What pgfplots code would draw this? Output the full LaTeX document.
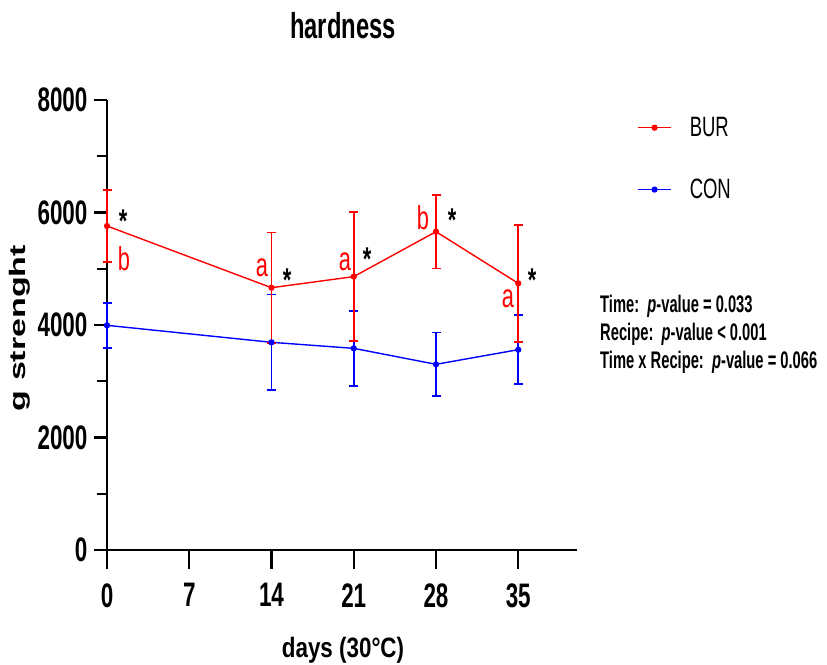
\documentclass[border=0pt]{standalone}
\usepackage{fontspec}
\setmainfont{Liberation Sans}[FakeStretch=0.66]
\newfontfamily\ylfont{Liberation Sans}
\usepackage{graphicx}
\usepackage{pgfplots}
\pgfplotsset{compat=1.18}
\usepackage{pgfplotstable}

\pgfplotstableread{
x y e
0 5760 640
14 4663 980
21 4860 1145
28 5659 655
35 4741 1040
}\bur
\pgfplotstableread{
x y e
0 3994 400
14 3692 850
21 3585 665
28 3301 565
35 3561 615
}\con

\newcommand{\fs}[1]{\fontsize{#1}{#1}\selectfont}

\begin{document}
\begin{tikzpicture}
\useasboundingbox (0,0) rectangle (827pt,664pt);
\begin{axis}[
  at={(107pt,114pt)}, anchor=south west,
  scale only axis, width=470pt, height=450pt,
  xmin=0, xmax=40, ymin=0, ymax=8000,
  clip=false,
  axis x line=bottom, axis y line=left,
  axis line style={-, line width=2.4pt, black},
  xtick={0,7,14,21,28,35},
  ytick={0,2000,4000,6000,8000},
  minor ytick={1000,3000,5000,7000},
  tick align=outside,
  major tick length=13pt, minor tick length=10pt,
  tick style={black, line width=2.4pt},
  ticklabel style={font=\fs{34}\bfseries},
  xticklabel style={yshift=-17pt},
  yticklabel style={xshift=-3pt},
  /pgf/number format/assume math mode=true,
  scaled y ticks=false,
  yticklabel style={/pgf/number format/1000 sep={}},
  reverse legend,
  legend cell align=left,
  legend style={draw=none, fill=none, at={(1.128,0.962)}, anchor=north west,
    font=\fs{28}, row sep=41pt, column sep=18pt, inner sep=0pt,
    nodes={inner sep=0pt}},
  legend image code/.code={\draw[#1, mark repeat=2, mark phase=2] plot coordinates {(0pt,0pt) (16.5pt,0pt) (33pt,0pt)};},
]
\addplot[blue, line width=1.4pt, mark=*, mark size=2.4pt, mark options={solid},
  error bars/.cd, y dir=both, y explicit,
  error bar style={line width=1.6pt},
  error mark options={rotate=90, mark size=4.5pt, line width=1.6pt}]
  table[x=x, y=y, y error=e] {\con};
\addlegendentry{CON}
\addplot[red, line width=1.4pt, mark=*, mark size=2.4pt, mark options={solid},
  error bars/.cd, y dir=both, y explicit,
  error bar style={line width=1.6pt},
  error mark options={rotate=90, mark size=4.5pt, line width=1.6pt}]
  table[x=x, y=y, y error=e] {\bur};
\addlegendentry{BUR}
% longer x ticks, as in the reference
\draw[line width=2.4pt] (axis cs:0,0) -- ++(0,-19pt)
  (axis cs:7,0) -- ++(0,-19pt) (axis cs:14,0) -- ++(0,-19pt)
  (axis cs:21,0) -- ++(0,-19pt) (axis cs:28,0) -- ++(0,-19pt)
  (axis cs:35,0) -- ++(0,-19pt);
\end{axis}
% title and axis labels
\node[anchor=base, font=\fs{36}\bfseries] at (343pt,625pt) {hardness};
\node[anchor=base] at (343pt,7pt) {\scalebox{0.8}[1]{\ylfont\fs{28}\bfseries days (30°C)}};
\node[rotate=90, anchor=center] at (20pt,336pt) {\scalebox{1}[0.66]{\ylfont\fs{34}\bfseries g strenght}};
% significance letters
\begin{scope}[every node/.style={inner sep=0pt, text=red, font=\fs{33}}]
\node[anchor=south] at (124pt,393pt) {b};
\node[anchor=south] at (262pt,387pt) {a};
\node[anchor=south] at (345pt,393pt) {a};
\node[anchor=south] at (423pt,434pt) {b};
\node[anchor=south] at (508pt,356pt) {a};
\end{scope}
\begin{scope}[every node/.style={inner sep=0pt, font=\fs{33}\bfseries}]
\node[anchor=north] at (123pt,454pt) {*};
\node[anchor=north] at (287pt,395pt) {*};
\node[anchor=north] at (367pt,416pt) {*};
\node[anchor=north] at (452pt,455pt) {*};
\node[anchor=north] at (532pt,395pt) {*};
\end{scope}
% statistics
\begin{scope}[every node/.style={anchor=base west, inner sep=0pt}]
\node at (600pt,351pt) {\scalebox{0.93}[1]{\fs{24}\bfseries Time:\ \ \textit{p}-value = 0.033}};
\node at (600pt,323pt) {\scalebox{0.93}[1]{\fs{24}\bfseries Recipe:\ \ \textit{p}-value < 0.001}};
\node at (600pt,295pt) {\scalebox{0.93}[1]{\fs{24}\bfseries Time x Recipe:\ \ \textit{p}-value = 0.066}};
\end{scope}
\end{tikzpicture}
\end{document}
